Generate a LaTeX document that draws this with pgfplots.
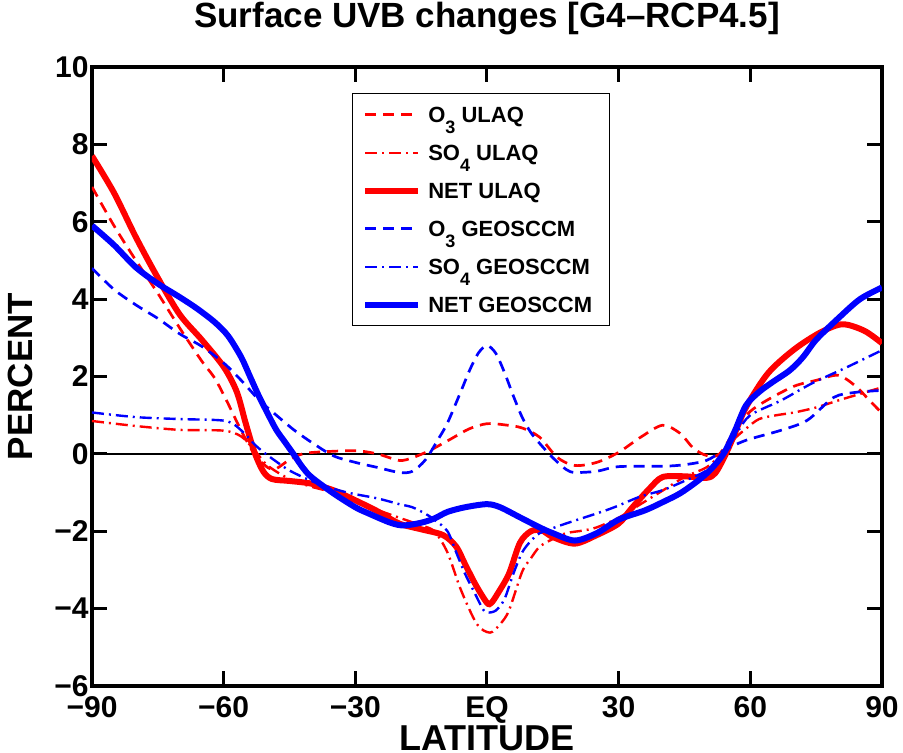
\documentclass[border=0pt]{standalone}
\usepackage{fontspec}
\setmainfont{Liberation Sans}
\usepackage{pgfplots}
\pgfplotsset{compat=1.18}
\newcommand{\sub}[1]{\raisebox{-5.5pt}{\fontsize{9}{10}\selectfont #1}}
\begin{document}
\begin{tikzpicture}
\begin{axis}[
  at={(0,0)}, anchor=south west,
  scale only axis, width=395pt, height=309.5pt,
  xmin=-90, xmax=90, ymin=-6, ymax=10,
  xtick={-90,-60,-30,0,30,60,90},
  xticklabels={−90,−60,−30,EQ,30,60,90},
  ytick={-6,-4,-2,0,2,4,6,8,10},
  yticklabels={−6,−4,−2,0,2,4,6,8,10},
  tick align=inside,
  major tick length=7.5pt,
  every tick/.style={black, line width=1.5pt},
  axis line style={line width=2pt},
  ticklabel style={font=\bfseries\fontsize{15}{18}\selectfont},
  xticklabel style={inner ysep=5pt},
  yticklabel style={inner xsep=1.5pt},
  title={Surface UVB changes [G4–RCP4.5]},
  title style={at={(axis description cs:0.5,1)}, anchor=base, yshift=13.5pt, font=\bfseries\fontsize{17.5}{21}\selectfont},
  xlabel={LATITUDE},
  xlabel style={at={(axis description cs:0.5,-0.1050)}, anchor=base, font=\bfseries\fontsize{18}{21}\selectfont},
  ylabel={PERCENT},
  ylabel style={at={(axis description cs:-0.0747,0.5)}, anchor=base, rotate=0, font=\bfseries\fontsize{17.5}{21}\selectfont},
  legend image code/.code={\draw[#1] (0pt,0pt) -- (26.5pt,0pt);},
  legend cell align=left,
  legend style={at={(axis cs:-30.8,9.32)}, anchor=north west, draw=black, line width=0.5pt,
    font=\bfseries\fontsize{11}{13}\selectfont, inner xsep=5pt, inner ysep=4.5pt,
    row sep=7pt, column sep=0pt,
    nodes={text height=8pt, text depth=0pt, inner ysep=2pt, inner xsep=3.5pt}},
]
\addplot[black, line width=1.2pt, forget plot] coordinates {(-90,0) (90,0)};
% O3 ULAQ
\addplot[red, line width=1.35pt, dash pattern=on 5.5pt off 3.5pt, smooth] coordinates {
(-90,6.9) (-85,5.9) (-80,5.0) (-75,4.15) (-70,3.25) (-65,2.4) (-62,1.95) (-59,1.3) (-56,0.6) (-53,0.0)
(-50,-0.35) (-48,-0.38) (-45,-0.15) (-42,0.0) (-38,0.05) (-30,0.08) (-25,0.0) (-20,-0.17) (-17,-0.1)
(-13,0.09) (-8,0.4) (-4,0.65) (0,0.78) (4,0.75) (8,0.67) (12,0.43) (16,-0.09) (20,-0.3) (25,-0.22)
(30,0.04) (35,0.43) (40,0.74) (44,0.53) (47,0.15) (50,-0.04) (53,0.0) (57,0.7) (60,1.1) (64,1.4)
(70,1.75) (75,1.9) (80,2.03) (84,1.75) (87,1.4) (90,1.05)};
\addlegendentry{O\sub{3} ULAQ}
% SO4 ULAQ
\addplot[red, line width=1.2pt, dash pattern=on 6pt off 2.5pt on 1pt off 2.5pt, smooth] coordinates {
(-90,0.85) (-80,0.72) (-70,0.62) (-60,0.6) (-56,0.45) (-53,0.1) (-50,-0.3) (-45,-0.65) (-40,-0.85)
(-35,-1.0) (-30,-1.25) (-25,-1.45) (-20,-1.65) (-15,-1.85) (-12,-2.0) (-9,-2.55) (-6,-3.5) (-2.3,-4.4)
(0.7,-4.62) (3,-4.4) (5,-4.05) (8,-3.05) (10,-2.7) (12,-2.4) (15,-2.2) (18,-2.05) (22,-1.98) (25,-1.9)
(30,-1.65) (35,-1.3) (40,-0.95) (45,-0.6) (50,-0.35) (53,-0.05) (56,0.35) (59,0.65) (62,0.9) (66,1.0)
(70,1.07) (75,1.2) (80,1.38) (85,1.55) (90,1.72)};
\addlegendentry{SO\sub{4} ULAQ}
% NET ULAQ
\addplot[red, line width=3pt, smooth] coordinates {
(-90,7.7) (-85,6.75) (-80,5.6) (-75,4.55) (-70,3.6) (-65,2.95) (-60,2.25) (-57,1.6) (-55,0.8) (-53,0.05)
(-51,-0.45) (-49,-0.65) (-45,-0.7) (-40,-0.77) (-35,-0.94) (-30,-1.2) (-25,-1.48) (-20,-1.8) (-15,-1.95)
(-10,-2.1) (-7,-2.4) (-5,-2.85) (-2.5,-3.4) (0,-3.85) (1,-3.85) (2.5,-3.6) (5,-3.1) (7.5,-2.3) (10,-2.0)
(12.5,-1.98) (15,-2.15) (20,-2.32) (25,-2.1) (30,-1.8) (33,-1.4) (37,-0.9) (40,-0.6) (45,-0.58) (50,-0.62)
(52,-0.5) (54,-0.1) (56,0.4) (59,1.2) (64,2.08) (70,2.7) (76,3.14) (81,3.35) (86,3.18) (90,2.86)};
\addlegendentry{NET ULAQ}
% O3 GEOSCCM
\addplot[blue, line width=1.35pt, dash pattern=on 5.5pt off 3.5pt, smooth] coordinates {
(-90,4.8) (-85,4.25) (-80,3.85) (-75,3.5) (-70,3.1) (-65,2.78) (-60,2.35) (-56,1.9) (-52,1.4) (-48,1.0)
(-44,0.62) (-40,0.3) (-35,-0.05) (-30,-0.22) (-25,-0.35) (-20,-0.48) (-17,-0.45) (-14,-0.15) (-11,0.4)
(-9,0.8) (-6,1.6) (-4,2.15) (-2,2.6) (0,2.8) (2,2.6) (4,2.1) (6,1.5) (8,0.95) (10,0.55) (12,0.27)
(15,-0.1) (18,-0.4) (20,-0.48) (25,-0.45) (30,-0.33) (40,-0.32) (45,-0.28) (50,-0.17) (54,0.09)
(59,0.35) (67,0.61) (73,0.87) (79,1.46) (84,1.59) (90,1.64)};
\addlegendentry{O\sub{3} GEOSCCM}
% SO4 GEOSCCM
\addplot[blue, line width=1.2pt, dash pattern=on 6pt off 2.5pt on 1pt off 2.5pt, smooth] coordinates {
(-90,1.07) (-80,0.95) (-70,0.9) (-61,0.87) (-58,0.79) (-55,0.5) (-53,0.25) (-51,0.05) (-48,-0.2)
(-45,-0.43) (-40,-0.7) (-35,-0.9) (-31,-1.02) (-25,-1.15) (-20,-1.3) (-17,-1.38) (-14,-1.55) (-12,-1.7)
(-9,-2.0) (-7,-2.55) (-5,-3.1) (-3,-3.55) (-1,-4.0) (0,-4.1) (2,-4.05) (4,-3.75) (6,-3.1) (8,-2.55)
(10,-2.25) (12,-2.05) (15,-1.92) (18,-1.8) (25,-1.54) (29,-1.38) (35,-1.1) (40,-0.94) (45,-0.7)
(50,-0.43) (54,0.0) (57,0.55) (60,1.0) (67,1.38) (74,1.82) (82,2.24) (90,2.68)};
\addlegendentry{SO\sub{4} GEOSCCM}
% NET GEOSCCM
\addplot[blue, line width=3pt, smooth] coordinates {
(-90,5.9) (-85,5.4) (-80,4.82) (-75,4.4) (-70,4.05) (-66,3.75) (-62,3.4) (-59,3.05) (-56,2.5) (-54,2.0)
(-52,1.5) (-50,1.05) (-48,0.62) (-46,0.3) (-44,-0.02) (-42,-0.35) (-40,-0.6) (-35,-1.02) (-30,-1.38)
(-27,-1.54) (-22,-1.78) (-19,-1.85) (-15,-1.78) (-12,-1.67) (-9,-1.5) (-5,-1.38) (0,-1.3) (3,-1.38)
(7.5,-1.64) (12,-1.9) (15,-2.05) (20,-2.24) (25,-2.05) (30,-1.7) (36,-1.46) (40,-1.25) (44,-1.02)
(48,-0.7) (51,-0.4) (54,0.02) (56.5,0.6) (59,1.25) (62,1.6) (65,1.85) (69,2.16) (72,2.5) (75,2.95)
(80,3.5) (85,4.0) (90,4.3)};
\addlegendentry{NET GEOSCCM\hspace{9pt}}
\end{axis}
\pgfresetboundingbox
\path[use as bounding box] (-46pt,-33.5pt) rectangle (405.5pt,343pt);
\end{tikzpicture}
\end{document}
